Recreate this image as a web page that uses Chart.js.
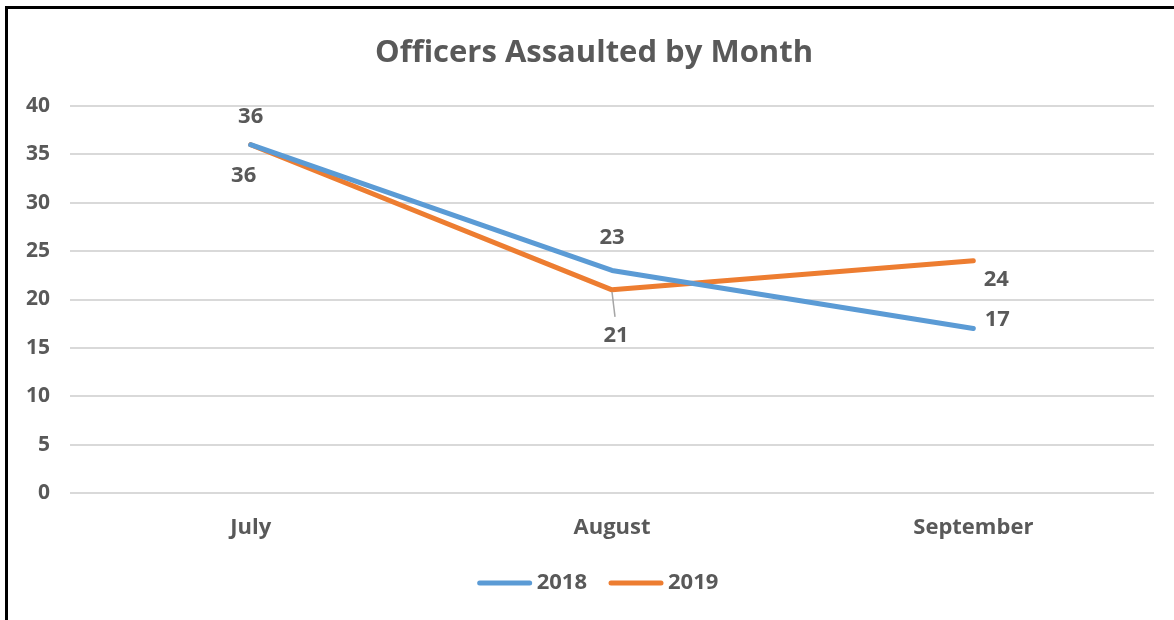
<!DOCTYPE html>
<html>
<head>
<meta charset="utf-8">
<script src="https://cdn.jsdelivr.net/npm/chart.js@4"></script>
<style>
  html, body { margin: 0; padding: 0; background: #fff; }
  #wrap { position: relative; width: 1174px; height: 620px; overflow: hidden; }
  #frame { position: absolute; left: 5px; top: 6px; width: 1180px; height: 640px; border-top: 3px solid #000; border-left: 3px solid #000; box-sizing: border-box; }
  canvas { position: absolute; left: 0; top: 0; }
</style>
</head>
<body>
<div id="wrap">
  <div id="frame"></div>
  <canvas id="c" width="1174" height="620"></canvas>
</div>
<script>
const categories = ['July', 'August', 'September'];
const series2018 = [36, 23, 17];
const series2019 = [36, 21, 24];
const yTicks = [0, 5, 10, 15, 20, 25, 30, 35, 40];
const titleText = 'Officers Assaulted by Month';

const FONT = "'Open Sans', 'Liberation Sans', sans-serif";
const TEXT = '#595959';

// label placement offsets relative to each point (style only)
const labelOffsets = [
  [[0, -28], [0, -33], [24, -9]],
  [[-7, 31], [4, 46], [23, 19]]
];

const labelPlugin = {
  id: 'pointLabels',
  afterDatasetsDraw(chart) {
    const ctx = chart.ctx;
    ctx.save();
    ctx.font = `bold 22px ${FONT}`;
    ctx.fillStyle = TEXT;
    ctx.textAlign = 'center';
    ctx.textBaseline = 'middle';
    chart.data.datasets.forEach((ds, di) => {
      const meta = chart.getDatasetMeta(di);
      meta.data.forEach((pt, i) => {
        const [dx, dy] = labelOffsets[di][i];
        const lx = pt.x + dx, ly = pt.y + dy;
        if (di === 1 && i === 1) {
          ctx.strokeStyle = '#A6A6A6';
          ctx.lineWidth = 1.5;
          ctx.beginPath();
          ctx.moveTo(pt.x, pt.y + 2);
          ctx.lineTo(lx - 1, ly - 19);
          ctx.stroke();
        }
        ctx.fillText(String(ds.data[i]), lx, ly);
      });
    });
    ctx.restore();
  }
};

// title and legend drawn in a plugin (real canvas text)
const titleLegendPlugin = {
  id: 'titleLegend',
  afterDraw(chart) {
    const ctx = chart.ctx;
    ctx.save();
    ctx.fillStyle = TEXT;
    ctx.font = `bold 31px ${FONT}`;
    ctx.textAlign = 'center';
    ctx.textBaseline = 'middle';
    ctx.fillText(titleText, 594, 53);

    ctx.font = `bold 22px ${FONT}`;
    ctx.textAlign = 'left';
    const lineLen = 54, gap = 5, itemGap = 22, cy = 583, centerX = 598;
    const items = chart.data.datasets.map(ds => ({ label: ds.label, color: ds.borderColor, w: ctx.measureText(ds.label).width }));
    const total = items.reduce((s, it) => s + lineLen + gap + it.w, 0) + itemGap * (items.length - 1);
    let x = centerX - total / 2;
    items.forEach(it => {
      ctx.strokeStyle = it.color;
      ctx.lineWidth = 5;
      ctx.lineCap = 'round';
      ctx.beginPath();
      ctx.moveTo(x + 2, cy);
      ctx.lineTo(x + lineLen - 2, cy);
      ctx.stroke();
      ctx.fillStyle = TEXT;
      ctx.fillText(it.label, x + lineLen + gap, cy);
      x += lineLen + gap + it.w + itemGap;
    });
    ctx.restore();
  }
};

new Chart(document.getElementById('c'), {
  type: 'line',
  data: {
    labels: categories,
    datasets: [
      { label: '2018', data: series2018, borderColor: '#5B9BD5', backgroundColor: '#5B9BD5', borderWidth: 5, pointRadius: 0, tension: 0, borderCapStyle: 'round', borderJoinStyle: 'round' },
      { label: '2019', data: series2019, borderColor: '#ED7D31', backgroundColor: '#ED7D31', borderWidth: 5, pointRadius: 0, tension: 0, borderCapStyle: 'round', borderJoinStyle: 'round' }
    ]
  },
  options: {
    responsive: false,
    animation: false,
    layout: { padding: { left: 0, right: 20, top: 106, bottom: 0 } },
    plugins: {
      title: { display: false },
      legend: { display: false },
      tooltip: { enabled: false }
    },
    scales: {
      x: {
        offset: true,
        grid: { display: false, drawTicks: false },
        border: { display: false },
        ticks: { color: TEXT, font: { family: FONT, size: 22, weight: 'bold' }, padding: 22 },
        afterFit(scale) { scale.height = 127; }
      },
      y: {
        min: 0, max: 40,
        afterBuildTicks(scale) { scale.ticks = yTicks.map(v => ({ value: v })); },
        grid: { color: '#D9D9D9', lineWidth: 2, drawTicks: false },
        border: { display: false },
        ticks: { color: TEXT, font: { family: FONT, size: 21, weight: 'bold' }, padding: 20 },
        afterFit(scale) { scale.width = 70; }
      }
    }
  },
  plugins: [labelPlugin, titleLegendPlugin]
});
</script>
</body>
</html>
